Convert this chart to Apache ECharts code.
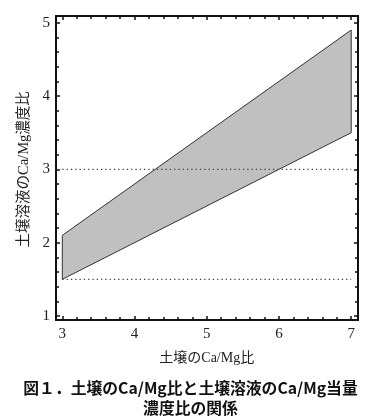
<!DOCTYPE html>
<html>
<head>
<meta charset="utf-8">
<script src="https://cdn.jsdelivr.net/npm/echarts@6/dist/echarts.min.js"></script>
<style>
html,body{margin:0;padding:0;background:#fff;}
#chart{width:381px;height:418px;}
</style>
</head>
<body>
<div id="chart"></div>
<script>
// Data
const bandX = [3, 7];
const bandUpper = [2.1, 4.9];
const bandLower = [1.5, 3.5];
const refLineX = [3, 7];
const refLineUpper = 3;
const refLineLower = 1.5;
const xTickMin = 3, xTickMax = 7;
const yTickMin = 1, yTickMax = 5;
const xTitle = '土壌のCa/Mg比';
const yTitle = '土壌溶液のCa/Mg濃度比';
const caption = '図１．土壌のCa/Mg比と土壌溶液のCa/Mg当量\n濃度比の関係';

const serif = "'Liberation Serif', 'DejaVu Serif', 'Noto Sans CJK JP', serif";

const chart = echarts.init(document.getElementById('chart'), null, {renderer: 'canvas'});

const tickCommon = {
  axisLine: {show: false},
  axisTick: {show: true, inside: true, length: 4, lineStyle: {color: '#111', width: 1.5}},
  minorTick: {show: true, splitNumber: 5, length: 3, lineStyle: {color: '#111', width: 1.5}},
  splitLine: {show: false},
  minorSplitLine: {show: false}
};

const option = {
  animation: false,
  backgroundColor: '#fff',
  title: {
    text: caption,
    left: 'center',
    top: 373,
    textStyle: {fontFamily: "'Noto Sans CJK JP', sans-serif", fontSize: 15.8, fontWeight: 'bold', color: '#111', lineHeight: 20}
  },
  grid: [
    {left: 62.3, right: 29.8, top: 22.7, bottom: 102},
    {left: 56, right: 23, top: 16, bottom: 98, show: true, borderColor: '#111', borderWidth: 2, backgroundColor: 'transparent'}
  ],
  xAxis: [
    Object.assign({}, tickCommon, {
      type: 'value', gridIndex: 0, position: 'bottom', offset: 4,
      min: xTickMin, max: xTickMax, interval: 1,
      axisLabel: {show: true, margin: 7, fontFamily: serif, fontSize: 15, color: '#222'},
      name: xTitle, nameLocation: 'middle', nameGap: 31,
      nameTextStyle: {fontFamily: serif, fontSize: 14, color: '#222'}
    }),
    Object.assign({}, tickCommon, {
      type: 'value', gridIndex: 0, position: 'top', offset: 6.7,
      min: xTickMin, max: xTickMax, interval: 1,
      axisLabel: {show: false}
    }),
    {type: 'value', gridIndex: 1, show: false, min: 0, max: 1}
  ],
  yAxis: [
    Object.assign({}, tickCommon, {
      type: 'value', gridIndex: 0, position: 'left', offset: 6.3,
      min: yTickMin, max: yTickMax, interval: 1,
      axisLabel: {show: true, margin: 6, fontFamily: serif, fontSize: 15, color: '#222'},
      name: yTitle, nameLocation: 'middle', nameGap: 24, nameRotate: 90,
      nameTextStyle: {fontFamily: serif, fontSize: 14.5, color: '#222'}
    }),
    Object.assign({}, tickCommon, {
      type: 'value', gridIndex: 0, position: 'right', offset: 6.8,
      min: yTickMin, max: yTickMax, interval: 1,
      axisLabel: {show: false}
    }),
    {type: 'value', gridIndex: 1, show: false, min: 0, max: 1}
  ],
  series: [
    {
      type: 'custom',
      xAxisIndex: 0, yAxisIndex: 0,
      data: bandX.map((x, i) => [x, bandUpper[i], bandLower[i]]),
      encode: {x: 0, y: [1, 2]},
      renderItem: function (params, api) {
        if (params.dataIndex !== 0) return null;
        const pts = [];
        for (let i = 0; i < bandX.length; i++) pts.push(api.coord([bandX[i], bandUpper[i]]));
        for (let i = bandX.length - 1; i >= 0; i--) pts.push(api.coord([bandX[i], bandLower[i]]));
        return {
          type: 'polygon',
          shape: {points: pts},
          style: {fill: '#c0c0c0', stroke: '#333', lineWidth: 1}
        };
      },
      z: 2
    },
    {
      type: 'line', xAxisIndex: 0, yAxisIndex: 0,
      data: refLineX.map(x => [x, refLineUpper]),
      symbol: 'none',
      lineStyle: {color: '#444', width: 1.3, type: [1.3, 3]},
      z: 3
    },
    {
      type: 'line', xAxisIndex: 0, yAxisIndex: 0,
      data: refLineX.map(x => [x, refLineLower]),
      symbol: 'none',
      lineStyle: {color: '#444', width: 1.3, type: [1.3, 3]},
      z: 1
    }
  ]
};
chart.setOption(option);
</script>
</body>
</html>
